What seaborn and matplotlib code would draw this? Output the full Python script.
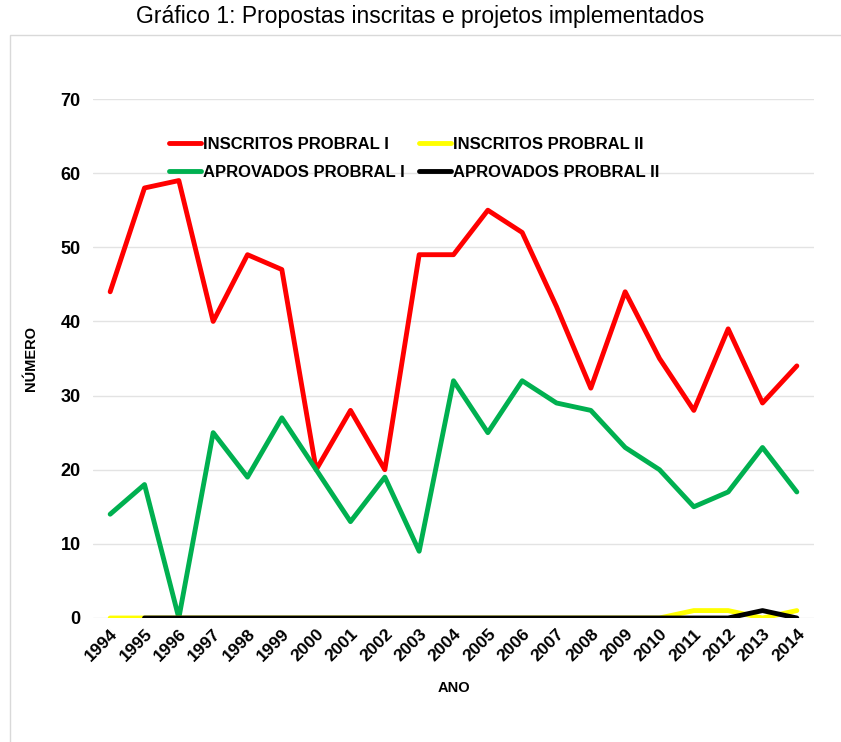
import matplotlib
matplotlib.use("Agg")
import matplotlib.pyplot as plt
import seaborn as sns
import pandas as pd
import numpy as np
from matplotlib.patches import Rectangle
from matplotlib.lines import Line2D

anos = list(range(1994, 2015))
inscritos_1 = [44, 58, 59, 40, 49, 47, 20, 28, 20, 49, 49, 55, 52, 42, 31, 44, 35, 28, 39, 29, 34]
aprovados_1 = [14, 18, 0, 25, 19, 27, 20, 13, 19, 9, 32, 25, 32, 29, 28, 23, 20, 15, 17, 23, 17]
inscritos_2 = [0, 0, 0, 0, 0, 0, 0, 0, 0, 0, 0, 0, 0, 0, 0, 0, 0, 1, 1, 0, 1]
aprovados_2 = [np.nan, 0, 0, 0, 0, 0, 0, 0, 0, 0, 0, 0, 0, 0, 0, 0, 0, 0, 0, 1, 0]

series = {
    "INSCRITOS PROBRAL I": inscritos_1,
    "APROVADOS PROBRAL I": aprovados_1,
    "INSCRITOS PROBRAL II": inscritos_2,
    "APROVADOS PROBRAL II": aprovados_2,
}
cores = {
    "INSCRITOS PROBRAL I": "#ff0000",
    "APROVADOS PROBRAL I": "#00b050",
    "INSCRITOS PROBRAL II": "#ffff00",
    "APROVADOS PROBRAL II": "#000000",
}

rows = []
for nome, vals in series.items():
    for a, v in zip(anos, vals):
        rows.append({"ANO": a, "valor": v, "serie": nome})
df = pd.DataFrame(rows).dropna()

sns.set_style("white")
plt.rcParams["font.family"] = ["Liberation Sans", "DejaVu Sans"]
plt.rcParams["text.color"] = "black"
plt.rcParams["xtick.color"] = "black"
plt.rcParams["ytick.color"] = "black"
plt.rcParams["axes.labelcolor"] = "black"

fig = plt.figure(figsize=(8.41, 7.42), dpi=100)
fig.patches.append(Rectangle((10 / 841, -0.01), 1.0, (742 - 35) / 742 + 0.01,
                             transform=fig.transFigure, fill=False,
                             edgecolor="#d9d9d9", linewidth=1))
ax = fig.add_axes([93 / 841, 124 / 742, (814 - 93) / 841, (618 - 99) / 742])

sns.lineplot(data=df, x="ANO", y="valor", hue="serie", hue_order=list(series.keys()),
             palette=cores, linewidth=3.5, ax=ax, legend=False, zorder=3)

ax.set_xlim(1993.5, 2014.5)
ax.set_ylim(0, 70)
ax.set_yticks(range(0, 71, 10))
ax.set_xticks(anos)
ax.set_xticklabels([str(a) for a in anos], rotation=45, ha="right",
                   rotation_mode="anchor", fontsize=12.5, fontweight="bold")
for lab in ax.get_yticklabels():
    lab.set_fontsize(13)
    lab.set_fontweight("bold")
ax.grid(axis="y", color="#e3e3e3", linewidth=1)
ax.set_axisbelow(True)
for s in ax.spines.values():
    s.set_visible(False)
ax.tick_params(axis="both", length=0, pad=6)
ax.tick_params(axis="y", pad=9)
ax.set_xlabel("ANO", fontsize=10.5, fontweight="bold", labelpad=12)
ax.set_ylabel("NÚMERO", fontsize=10.5, fontweight="bold", labelpad=16)

handles = [Line2D([], [], color=cores[n], linewidth=3.5) for n in series]
ax.legend(handles, list(series.keys()), ncol=2, frameon=False,
          loc="upper left", bbox_to_anchor=(154 / 841, 1 - 122 / 742),
          bbox_transform=fig.transFigure, prop={"weight": "bold", "size": 12},
          handlelength=1.9, handletextpad=0.15, columnspacing=0.85, labelspacing=0.75)

fig.suptitle("Gráfico 1: Propostas inscritas e projetos implementados",
             fontsize=16.5, y=1 - 5 / 742, va="top")

fig.savefig("out.png", dpi=100)
